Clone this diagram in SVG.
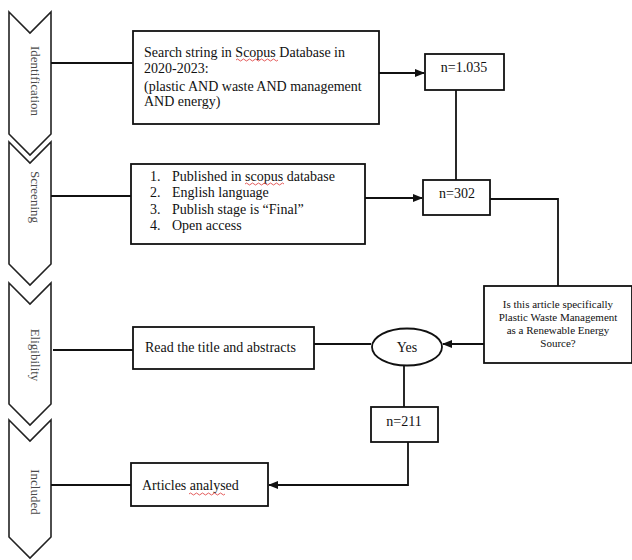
<svg xmlns="http://www.w3.org/2000/svg" width="632" height="560" viewBox="0 0 632 560">
<style>
.stage{fill:#fff;stroke:#222;stroke-width:1.6}
.lbl{font-family:'Liberation Serif','Times New Roman','DejaVu Serif',serif;font-size:13px;fill:#4a4a4a}
.box{fill:#fff;stroke:#111;stroke-width:1.8}
.t{font-family:'Liberation Serif','Times New Roman','DejaVu Serif',serif;font-size:14px;fill:#111}
.q{font-family:'Liberation Serif','Times New Roman','DejaVu Serif',serif;font-size:11px;fill:#111}
.ln{fill:none;stroke:#111;stroke-width:1.8}
.sq{fill:none;stroke:#d33;stroke-width:0.8}
</style>
<defs>
<marker id="ah" markerWidth="10" markerHeight="8" refX="9" refY="4" orient="auto" markerUnits="userSpaceOnUse">
<path d="M0,0 L10,4 L0,8 Z" fill="#111"/>
</marker>
</defs>
<g id="stage-identification">
<path class="stage" d="M9,12 L30,33 L51,12 L51,134 L30,155 L9,134 Z"/>
<text class="lbl" transform="translate(31,81) rotate(90)" text-anchor="middle">Identification</text>
</g>
<g id="stage-screening">
<path class="stage" d="M9,142 L30,163 L51,142 L51,264 L30,285 L9,264 Z"/>
<text class="lbl" transform="translate(31,197) rotate(90)" text-anchor="middle">Screening</text>
</g>
<g id="stage-eligibility">
<path class="stage" d="M9,283 L30,304 L51,283 L51,404 L30,425 L9,404 Z"/>
<text class="lbl" transform="translate(31,355) rotate(90)" text-anchor="middle">Eligibility</text>
</g>
<g id="stage-included">
<path class="stage" d="M9,420 L30,441 L51,420 L51,537 L30,558 L9,537 Z"/>
<text class="lbl" transform="translate(31,492) rotate(90)" text-anchor="middle">Included</text>
</g>
<g id="connectors">
<line class="ln" x1="51" y1="63" x2="133" y2="63"/>
<line class="ln" x1="51" y1="196" x2="131" y2="196"/>
<line class="ln" x1="53" y1="350" x2="133" y2="350"/>
<line class="ln" x1="51" y1="485" x2="131" y2="485"/>
<line class="ln" x1="379" y1="73" x2="424" y2="73" marker-end="url(#ah)"/>
<line class="ln" x1="456" y1="90" x2="456" y2="180"/>
<line class="ln" x1="365" y1="198" x2="422" y2="198" marker-end="url(#ah)"/>
<polyline class="ln" points="490,199 558,199 558,286"/>
<line class="ln" x1="484" y1="344" x2="443" y2="344" marker-end="url(#ah)"/>
<line class="ln" x1="314" y1="344" x2="371" y2="344"/>
<line class="ln" x1="404" y1="365" x2="404" y2="407"/>
<polyline class="ln" points="408,442 408,485 269,485" marker-end="url(#ah)"/>
</g>
<g id="search">
<rect class="box" x="133" y="31" width="246" height="93"/>
<text class="t" x="144" y="57">Search string in Scopus Database in</text>
<text class="t" x="144" y="73">2020-2023:</text>
<text class="t" x="144" y="91">(plastic AND waste AND management</text>
<text class="t" x="144" y="106">AND energy)</text>
<path class="sq" d="M236,60 q1.5,-2 3,0 t3,0 t3,0 t3,0 t3,0 t3,0 t3,0 t3,0 t3,0 t3,0 t3,0 t3,0 t3,0 t3,0"/>
</g>
<g id="n1035">
<rect class="box" x="425" y="54" width="79" height="36"/>
<text class="t" x="464" y="72" text-anchor="middle">n=1.035</text>
</g>
<g id="criteria">
<rect class="box" x="131" y="164" width="234" height="80"/>
<text class="t" x="150" y="181">1.</text><text class="t" x="172" y="181">Published in scopus database</text>
<text class="t" x="150" y="197">2.</text><text class="t" x="172" y="197">English language</text>
<text class="t" x="150" y="214">3.</text><text class="t" x="172" y="214">Publish stage is “Final”</text>
<text class="t" x="150" y="230">4.</text><text class="t" x="172" y="230">Open access</text>
<path class="sq" d="M245,184 q1.5,-2 3,0 t3,0 t3,0 t3,0 t3,0 t3,0 t3,0 t3,0 t3,0 t3,0 t3,0 t3,0 t3,0"/>
</g>
<g id="n302">
<rect class="box" x="423" y="180" width="67" height="35"/>
<text class="t" x="457" y="198" text-anchor="middle">n=302</text>
</g>
<g id="question">
<rect class="box" x="484" y="286" width="148" height="77"/>
<text class="q" x="558" y="308" text-anchor="middle">Is this article specifically</text>
<text class="q" x="558" y="321" text-anchor="middle">Plastic Waste Management</text>
<text class="q" x="558" y="334" text-anchor="middle">as a Renewable Energy</text>
<text class="q" x="558" y="347" text-anchor="middle">Source?</text>
</g>
<g id="yes">
<ellipse class="box" cx="407" cy="347" rx="35" ry="18.5"/>
<text class="t" x="407" y="352" text-anchor="middle">Yes</text>
</g>
<g id="read">
<rect class="box" x="133" y="327" width="181" height="42"/>
<text class="t" x="145" y="352">Read the title and abstracts</text>
</g>
<g id="n211">
<rect class="box" x="371" y="407" width="67" height="35"/>
<text class="t" x="404" y="426" text-anchor="middle">n=211</text>
</g>
<g id="articles">
<rect class="box" x="131" y="463" width="137" height="43"/>
<text class="t" x="142" y="490">Articles analysed</text>
<path class="sq" d="M189,494 q1.5,-2 3,0 t3,0 t3,0 t3,0 t3,0 t3,0 t3,0 t3,0 t3,0 t3,0 t3,0 t3,0"/>
</g>
</svg>
